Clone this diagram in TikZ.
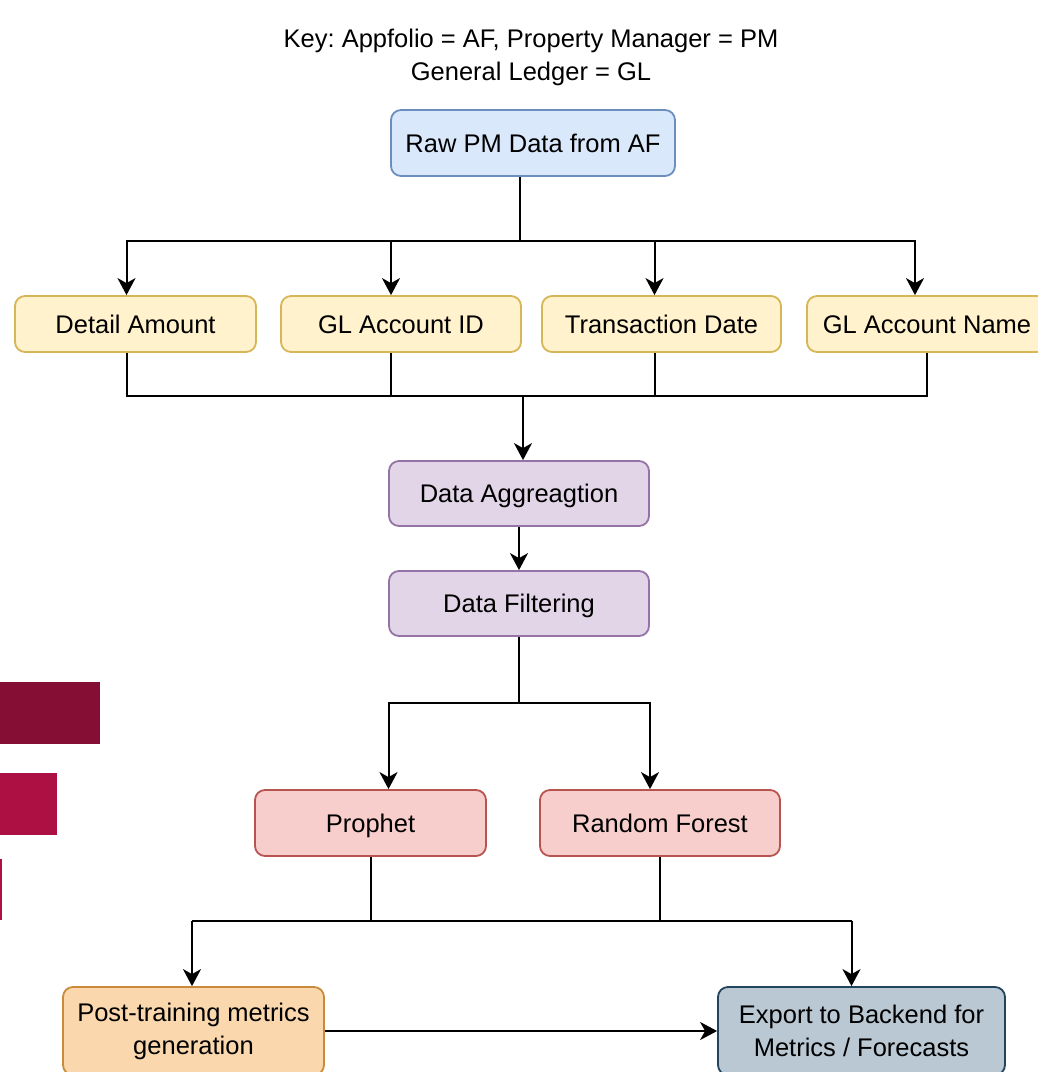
\documentclass[tikz,border=0pt]{standalone}
\usepackage{fontspec}
\setmainfont{Liberation Sans}
\usetikzlibrary{arrows.meta}
\definecolor{bluefill}{HTML}{DAE8FC}
\definecolor{blueline}{HTML}{6C8EBF}
\definecolor{yellowfill}{HTML}{FFF2CC}
\definecolor{yellowline}{HTML}{D6B656}
\definecolor{purplefill}{HTML}{E1D5E7}
\definecolor{purpleline}{HTML}{9673A6}
\definecolor{redfill}{HTML}{F8CECC}
\definecolor{redline}{HTML}{B85450}
\definecolor{orangefill}{HTML}{FAD7AC}
\definecolor{orangeline}{HTML}{C98A3A}
\definecolor{greyfill}{HTML}{BAC8D3}
\definecolor{greyline}{HTML}{23445D}
\definecolor{darkbar}{HTML}{850E34}
\definecolor{brightbar}{HTML}{AD1043}
\frenchspacing
\begin{document}
\begin{tikzpicture}[x=1pt,y=-1pt,>={Stealth[length=17pt,width=18pt,inset=5pt]},
    line width=2pt,
    every node/.style={font=\fontsize{25.5}{33}\selectfont},
    box/.style={draw,rounded corners=10pt,line width=1.8pt,minimum height=56pt,inner sep=0pt,align=center},
    oneline/.style={box,text height=21pt,text depth=2.8pt},
    rawbox/.style={oneline,fill=bluefill,draw=blueline},
    fieldbox/.style={oneline,fill=yellowfill,draw=yellowline,minimum width=241pt},
    prepbox/.style={oneline,fill=purplefill,draw=purpleline,minimum width=260pt,minimum height=65pt},
    modelbox/.style={oneline,fill=redfill,draw=redline,minimum height=66pt}]
    \useasboundingbox (0,0) rectangle (1038,1072);
    \clip (0,0) rectangle (1038,1072);
    \fill[darkbar] (0,682) rectangle (100,744);
    \fill[brightbar] (0,773) rectangle (57,835);
    \fill[brightbar] (0,859) rectangle (2,920);
    \node[align=center] (key) at (531,57) {Key: Appfolio = AF, Property Manager = PM\\General Ledger = GL};
    \node[rawbox,minimum width=284pt,minimum height=66pt] (raw) at (533,143) {Raw PM Data from AF};
    \node[fieldbox] (amount) at (135.5,324) {Detail Amount};
    \node[fieldbox,minimum width=240pt] (glid) at (401,324) {GL Account ID};
    \node[fieldbox,minimum width=239pt] (tdate) at (661.5,324) {Transaction Date};
    \node[fieldbox,minimum width=240pt] (glname) at (927,324) {GL Account Name};
    \node[prepbox] (agg) at (519,493.5) {Data Aggreagtion};
    \node[prepbox] (filt) at (519,603.5) {Data Filtering};
    \node[modelbox,minimum width=231pt] (prophet) at (370.5,823) {Prophet};
    \node[modelbox,minimum width=240pt] (rf) at (660,823) {Random Forest};
    \node[box,fill=orangefill,draw=orangeline,minimum width=261pt,minimum height=88pt] (post) at (193.5,1031) {Post-training metrics\\generation};
    \node[box,fill=greyfill,draw=greyline,minimum width=287pt,minimum height=88pt] (export) at (861.5,1031) {Export to Backend for\\Metrics / Forecasts};
    \draw ([xshift=-13]raw.south) -- ++(0,64) coordinate (split);
    \foreach \n/\s in {amount/-9,glid/-10,tdate/-7,glname/-12}
        \draw[->] (split) -| ([xshift=\s]\n.north);
    \coordinate (merge) at (523,396);
    \foreach \n/\s in {amount/-9,glid/-10,tdate/-7,glname/0}
        \draw ([xshift=\s]\n.south) |- (merge);
    \draw[->] (merge) -- (merge |- agg.north);
    \draw[->] (agg) -- (filt);
    \draw (filt.south) -- ++(0,66) coordinate (fork);
    \draw[->] (fork) -| ([xshift=18]prophet.north);
    \draw[->] (fork) -| ([xshift=-10]rf.north);
    \coordinate (join) at (0,921);
    \draw (prophet.south) -- (prophet.south |- join);
    \draw (rf.south) -- (rf.south |- join);
    \draw ([xshift=-1.5]join -| post.north) -- ([xshift=-10]join -| export.north);
    \draw[->] ([xshift=-1.5]join -| post.north) -- ([xshift=-1.5]post.north);
    \draw[->] ([xshift=-10]join -| export.north) -- ([xshift=-10]export.north);
    \draw[->] (post) -- (export);
\end{tikzpicture}
\end{document}
